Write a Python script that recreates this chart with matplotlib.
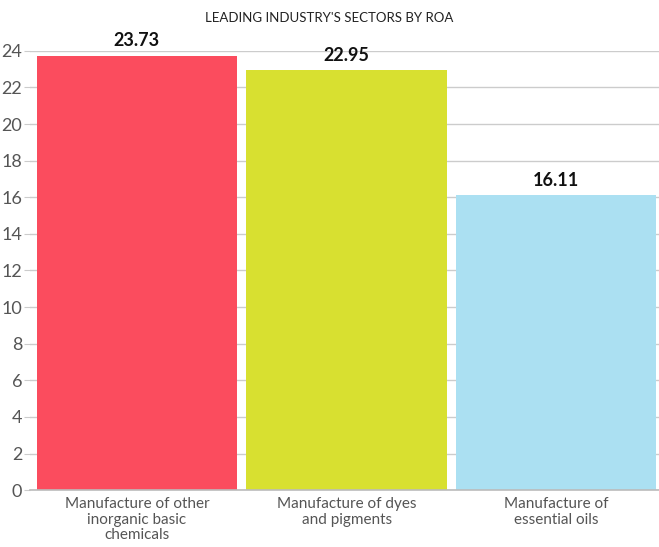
import matplotlib
matplotlib.use("Agg")
import matplotlib.pyplot as plt
import numpy as np

plt.rcParams['font.family'] = ['Lato', 'DejaVu Sans']

sectors = ["Manufacture of other\ninorganic basic\nchemicals",
           "Manufacture of dyes\nand pigments",
           "Manufacture of\nessential oils"]
roa = [23.73, 22.95, 16.11]
colors = ["#FB4C5E", "#D8E030", "#ABE0F2"]
yticks = np.arange(0, 25, 2)

fig = plt.figure(figsize=(6.59, 5.47), dpi=100)
ax = fig.add_axes([0.0455, 0.104, 0.9545, 0.803])

x = np.arange(len(sectors))
bars = ax.bar(x, roa, width=0.955, color=colors, zorder=2)

# value labels above each bar
for xi, v in zip(x, roa):
    ax.text(xi, v + 0.35, f"{v:.2f}", ha="center", va="bottom",
            fontsize=13, fontweight="bold", color="#111111", clip_on=False)

ax.set_xlim(-0.51, 2.49)
ax.set_ylim(0, 24)
ax.set_yticks(yticks)
ax.set_yticklabels([str(t) for t in yticks], fontsize=13, color="#555555")
ax.set_xticks(x)
ax.set_xticklabels(sectors, fontsize=11, color="#555555", linespacing=1.15)
ax.tick_params(axis="x", length=0, pad=5)
ax.tick_params(axis="y", length=4, width=0.8, color="#cccccc", pad=1.5)

ax.yaxis.grid(True, color="#cccccc", linewidth=1, zorder=0)
ax.set_axisbelow(True)
for s in ["top", "right", "left"]:
    ax.spines[s].set_visible(False)
ax.spines["bottom"].set_color("#bbbbbb")
ax.spines["bottom"].set_linewidth(1.2)

fig.text(0.5, 0.967, "LEADING INDUSTRY'S SECTORS BY ROA", ha="center",
         va="center", fontsize=9.5, color="#222222")

fig.savefig("out.png", dpi=100)
